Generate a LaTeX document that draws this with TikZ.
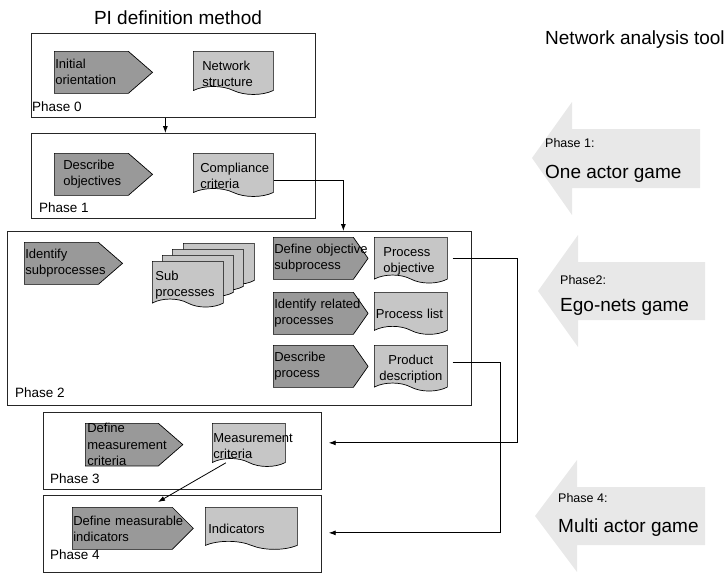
\documentclass[tikz,border=0pt]{standalone}
\usepackage{fontspec}
\setmainfont{Liberation Sans}
\usetikzlibrary{shapes.symbols,arrows.meta}
\hyphenpenalty=10000
\exhyphenpenalty=10000

\tikzset{
  phasebox/.style={draw=black!85,line width=0.7pt,anchor=north west,inner sep=0pt},
  phaselabel/.style={anchor=west,inner sep=0pt,font=\fontsize{13.5}{15}\selectfont},
  act/.style={signal,signal to=east,signal pointer angle=82,draw,line width=0.7pt,
    fill=gray!80,minimum height=42pt,inner ysep=0pt,inner xsep=1pt,align=left,
    anchor=north west,font=\fontsize{13}{16}\selectfont},
  actshort/.style={act,signal pointer angle=110},
  doc/.style={tape,tape bend top=none,tape bend bottom=out and in,tape bend height=8pt,
    draw,line width=0.7pt,fill=gray!45,minimum height=42pt,inner ysep=0pt,inner xsep=1pt,
    align=left,anchor=north west,font=\fontsize{13}{16}\selectfont,
    execute at begin node={\rule{0pt}{19pt}}},
  conn/.style={->,line width=0.8pt},
  gamearrow/.style={fill=gray!18},
  gamephase/.style={anchor=west,inner sep=0pt,font=\fontsize{12.5}{14}\selectfont},
  gamename/.style={anchor=west,inner sep=0pt,font=\fontsize{19}{22}\selectfont}
}

\begin{document}
\begin{tikzpicture}[x=1pt,y=-1pt,>={Latex[length=7pt,width=5pt]}]
\useasboundingbox (0,0) rectangle (726,573);

% headings
\node[font=\fontsize{19}{22}\selectfont] (title) at (178,18) {PI definition method};
\node[gamename] (tool) at (545,40) {Network analysis tool};

% phase 0
\node[phasebox,minimum width=284pt,minimum height=84pt] (p0) at (31,33) {};
\node[act,text width=72pt] (orient) at (54,51) {Initial\\orientation};
\node[doc,inner xsep=9pt,text width=62pt] (netstruct) at (193,51) {Network\\structure};
\node[phaselabel] (l0) at (32,107) {Phase 0};

% phase 1
\node[phasebox,minimum width=284pt,minimum height=85pt] (p1) at (31,133) {};
\node[act,inner xsep=9pt,text width=56pt] (descobj) at (54,153) {Describe\\objectives};
\node[doc,inner xsep=7pt,text width=66pt] (compl) at (193,153) {Compliance\\criteria};
\node[phaselabel] (l1) at (39,208) {Phase 1};

% phase 2
\node[phasebox,minimum width=464pt,minimum height=174pt] (p2) at (7,231) {};
\node[act,text width=72pt] (identsub) at (24,242) {Identify\\subprocesses};
\foreach \i/\dx/\dy in {4/31/-18,3/20/-12,2/10/-6}
  \node[doc,inner xsep=3pt,text width=65pt,minimum height=41pt] (sub\i) at (152+\dx,261+\dy) {};
\node[doc,inner xsep=3pt,text width=65pt,minimum height=41pt] (sub1) at (152,261) {Sub\\processes};
\node[actshort,text width=78pt] (defobj) at (273,237) {Define~objective\\subprocess};
\node[actshort,text width=78pt] (identrel) at (273,292) {Identify~related\\processes};
\node[actshort,text width=78pt] (descproc) at (273,345) {Describe\\process};
\node[doc,inner xsep=9pt,text width=55pt] (procobj) at (374,237) {Process\\objective};
\node[doc,inner xsep=1.5pt,text width=70pt] (proclist) at (374,292) {Process~list};
\node[doc,inner xsep=3pt,text width=67pt,align=center] (proddesc) at (374,345) {Product\\description};
\node[phaselabel] (l2) at (15,393) {Phase 2};

% phase 3
\node[phasebox,minimum width=278pt,minimum height=77pt] (p3) at (43,412) {};
\node[act,inner xsep=2pt,text width=69pt,font=\fontsize{13}{16.5}\selectfont] (defmeas) at (85,423) {Define\\measurement\\criteria};
\node[doc,text width=71pt] (meascrit) at (212,423) {Measurement\\criteria};
\node[phaselabel] (l3) at (50,479) {Phase 3};

% phase 4
\node[phasebox,minimum width=278pt,minimum height=77pt] (p4) at (43,495) {};
\node[act,signal pointer angle=90,text width=98pt] (defind) at (72,507) {Define~measurable\\indicators};
\node[doc,inner xsep=3pt,text width=86pt] (indic) at (205,507) {Indicators};
\node[phaselabel] (l4) at (50,555) {Phase 4};

% connectors
\draw[conn] ([xshift=-8pt]p0.south) -- ([xshift=-8pt]p1.north);
\draw[conn] ([yshift=-9pt]compl.east) -| ([xshift=104pt]p2.north);
\draw[conn] ([xshift=5pt,yshift=-2pt]procobj.east) -- ++(65,0) |- ([xshift=7pt,yshift=8pt]p3.east);
\draw[conn] ([xshift=5pt,yshift=2pt]proddesc.east) -- ++(48,0) |- ([xshift=7pt,yshift=1pt]p4.east);
\draw[conn] ([xshift=-23pt,yshift=-4pt]meascrit.south) -- ([shift={(86pt,5pt)}]defind.north west);

% network analysis arrows
\fill[gamearrow] (532,158) -- (572,102) -- (572,129) -- (700,129) -- (700,188) -- (572,188) -- (572,215) -- cycle;
\node[gamephase] (g1) at (545,143) {Phase 1:};
\node[gamename] (n1) at (545,174) {One actor game};
\fill[gamearrow] (538,291) -- (578,235) -- (578,262) -- (705,262) -- (705,320) -- (578,320) -- (578,347) -- cycle;
\node[gamephase] (g2) at (560,280) {Phase2:};
\node[gamename] (n2) at (560,307) {Ego-nets game};
\fill[gamearrow] (535,516) -- (577,460) -- (577,487) -- (705,487) -- (705,545) -- (577,545) -- (577,572) -- cycle;
\node[gamephase] (g4) at (558,498) {Phase 4:};
\node[gamename] (n4) at (558,528) {Multi actor game};
\end{tikzpicture}
\end{document}
